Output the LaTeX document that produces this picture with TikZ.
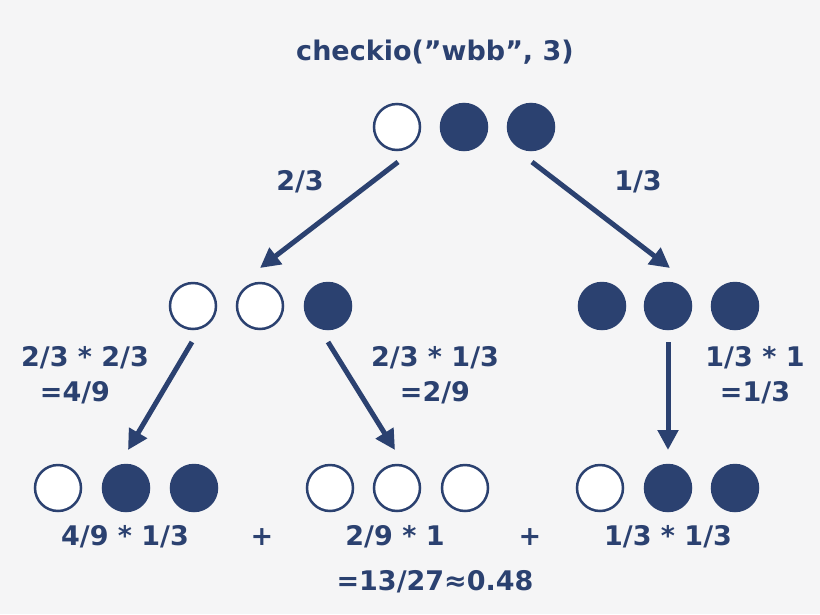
\documentclass[tikz,border=0pt]{standalone}
\usepackage{fontspec}
\setmainfont{DejaVu Sans}
\definecolor{navy}{HTML}{2B4170}
\definecolor{bg}{HTML}{F5F5F6}
\tikzset{
  ball/.style={circle, draw=navy, line width=2.5pt, minimum size=46pt, inner sep=0pt},
  wb/.style={ball, fill=white},
  bb/.style={ball, fill=navy},
  lbl/.style={text=navy, font=\fontsize{27}{32}\selectfont\bfseries, inner sep=0pt},
  arr/.style={-{Triangle[length=20pt,width=20pt]}, navy, line width=5pt}
}
\usetikzlibrary{arrows.meta}
\begin{document}
\begin{tikzpicture}[x=1pt,y=-1pt]
	\fill[bg] (0,0) rectangle (820,614);
	\useasboundingbox (0,0) rectangle (820,614);
	\node[lbl] (title) at (435,52) {checkio(\symbol{34}wbb\symbol{34}, 3)};
	% top
	\node[wb] (t1) at (397,127) {};
	\node[bb] (t2) at (464,127) {};
	\node[bb] (t3) at (531,127) {};
	% middle
	\node[wb] (m1) at (193,306) {};
	\node[wb] (m2) at (260,306) {};
	\node[bb] (m3) at (328,306) {};
	\foreach \x/\n in {602/m4,668/m5,735/m6}
	  \node[bb] (\n) at (\x,306) {};
	% bottom
	\node[wb] (b1) at (58,488) {};
	\node[bb] (b2) at (126,488) {};
	\node[bb] (b3) at (194,488) {};
	\foreach \x/\n in {330/b4,397/b5,465/b6}
	  \node[wb] (\n) at (\x,488) {};
	\node[wb] (b7) at (600,488) {};
	\node[bb] (b8) at (668,488) {};
	\node[bb] (b9) at (735,488) {};
	% arrows
	\coordinate (a1) at (398,162); \coordinate (e1) at (260,268);
	\coordinate (a2) at (532,162); \coordinate (e2) at (670,268);
	\coordinate (a3) at (192,342); \coordinate (e3) at (128,450);
	\coordinate (a4) at (328,342); \coordinate (e4) at (395,450);
	\coordinate (a5) at (668,342); \coordinate (e5) at (668,450);
	\foreach \i in {1,...,5}
	  \draw[arr] (a\i) -- (e\i);
	% labels
	\node[lbl] (p1) at (300,182) {2/3};
	\node[lbl] (p2) at (638,182) {1/3};
	\node[lbl] (p3) at (85,358) {2/3 * 2/3};
	\node[lbl] (p3b) at (75,393) {=4/9};
	\node[lbl] (p4) at (435,358) {2/3 * 1/3};
	\node[lbl] (p4b) at (435,393) {=2/9};
	\node[lbl] (p5) at (755,358) {1/3 * 1};
	\node[lbl] (p5b) at (755,393) {=1/3};
	\node[lbl] (s1) at (125,537) {4/9 * 1/3};
	\node[lbl] (plus1) at (262,537) {+};
	\node[lbl] (s2) at (395,537) {2/9 * 1};
	\node[lbl] (plus2) at (530,537) {+};
	\node[lbl] (s3) at (668,537) {1/3 * 1/3};
	\node[lbl] (sum) at (435,582) {=13/27≈0.48};
\end{tikzpicture}
\end{document}
